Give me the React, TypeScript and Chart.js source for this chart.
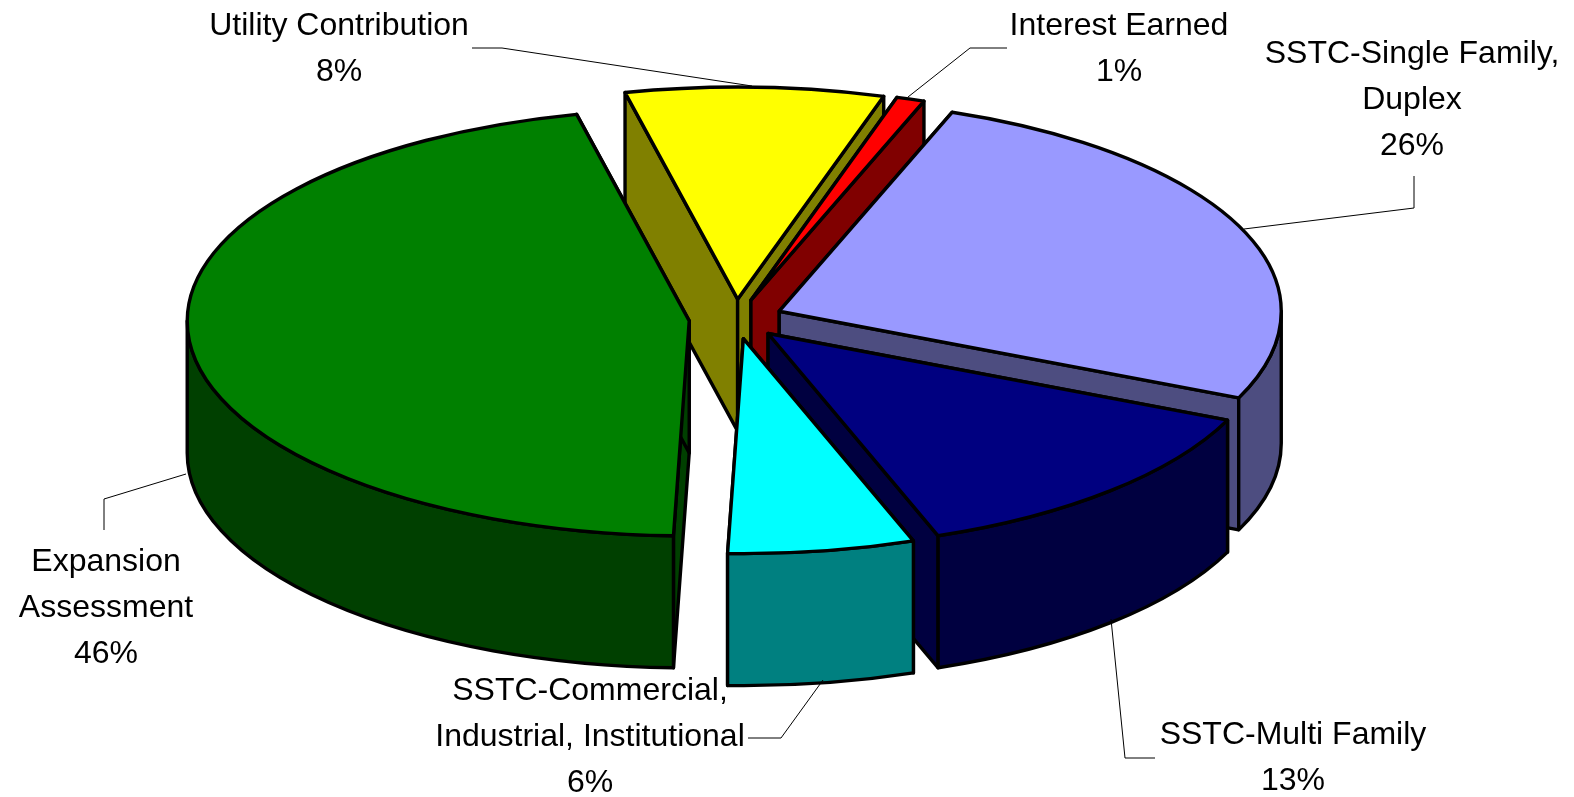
import React, { useEffect, useRef } from "react";
import { Chart, registerables } from "chart.js";

Chart.register(...registerables);

const categories = [
  "Expansion Assessment",
  "Utility Contribution",
  "Interest Earned",
  "SSTC-Single Family, Duplex",
  "SSTC-Multi Family",
  "SSTC-Commercial, Industrial, Institutional",
];
const values = [45.9, 8.3, 0.9, 26, 12.9, 6];
const topColors = ["#008000", "#FFFF00", "#FF0000", "#9999FF", "#000080", "#00FFFF"];
const sideColors = ["#004000", "#808000", "#800000", "#4D4D80", "#000040", "#008080"];

const labelLines = [
  ["Expansion", "Assessment"],
  ["Utility Contribution"],
  ["Interest Earned"],
  ["SSTC-Single Family,", "Duplex"],
  ["SSTC-Multi Family"],
  ["SSTC-Commercial,", "Industrial, Institutional"],
];
const labelCenters = [
  [106, 562],
  [339, 26],
  [1119, 26],
  [1412, 54],
  [1293, 735],
  [590, 691],
];
const leaders = [
  [[104, 530], [104, 499], [186, 474]],
  [[472, 48], [502, 48], [752, 86]],
  [[1007, 48], [970, 48], [908, 97]],
  [[1414, 176], [1414, 208], [1244, 229]],
  [[1155, 758], [1125, 758], [1111, 619]],
  [[748, 738], [781, 738], [823, 680]],
];

const CX = 736;
const CY = 319;
const RX = 502;
const RY_BACK = 212;
const RY_FRONT = 215;
const DEPTH = 132;
const EXPLODE = 47;
const LINE_H = 46;
const START_ANGLE = 181.8;

const ry = (t: number) => (Math.sin(t) > 0 ? RY_FRONT : RY_BACK);

function rim(ctx: CanvasRenderingContext2D, x: number, y: number, from: number, to: number) {
  const dir = to >= from ? 1 : -1;
  let t = from;
  while ((to - t) * dir > 1e-6) {
    const boundary =
      dir > 0
        ? (Math.floor(t / Math.PI + 1e-9) + 1) * Math.PI
        : (Math.ceil(t / Math.PI - 1e-9) - 1) * Math.PI;
    const next = dir > 0 ? Math.min(boundary, to) : Math.max(boundary, to);
    ctx.ellipse(x, y, RX, ry((t + next) / 2), 0, t, next, dir < 0);
    t = next;
  }
}

const pie3d = {
  id: "pie3d",
  beforeDatasetsDraw(chart: any) {
    const ctx: CanvasRenderingContext2D = chart.ctx;
    const arcs = chart.getDatasetMeta(0).data;
    const slices = arcs.map((el: any, i: number) => {
      const a = el.startAngle;
      const b = el.endAngle;
      const m = (a + b) / 2;
      return {
        a,
        b,
        i,
        x: CX + Math.cos(m) * EXPLODE,
        y: CY + (Math.sin(m) * EXPLODE * RY_BACK) / RX,
      };
    });
    slices.sort((p: any, q: any) => p.y - q.y);
    ctx.save();
    ctx.lineWidth = 3.4;
    ctx.lineJoin = "round";
    ctx.strokeStyle = "#000";
    const paint = (fill: string) => {
      ctx.fillStyle = fill;
      ctx.fill();
      ctx.stroke();
    };
    for (const s of slices) {
      const side = sideColors[s.i];
      for (const t of [s.a, s.b]) {
        const ex = s.x + Math.cos(t) * RX;
        const ey = s.y + Math.sin(t) * ry(t);
        ctx.beginPath();
        ctx.moveTo(s.x, s.y);
        ctx.lineTo(ex, ey);
        ctx.lineTo(ex, ey + DEPTH);
        ctx.lineTo(s.x, s.y + DEPTH);
        ctx.closePath();
        paint(side);
      }
      for (let n = -1; n < 3; n++) {
        const lo = Math.max(s.a, n * 2 * Math.PI);
        const hi = Math.min(s.b, n * 2 * Math.PI + Math.PI);
        if (hi <= lo) continue;
        ctx.beginPath();
        rim(ctx, s.x, s.y, lo, hi);
        rim(ctx, s.x, s.y + DEPTH, hi, lo);
        ctx.closePath();
        paint(side);
      }
      ctx.beginPath();
      ctx.moveTo(s.x, s.y);
      rim(ctx, s.x, s.y, s.a, s.b);
      ctx.closePath();
      paint(topColors[s.i]);
    }
    ctx.lineWidth = 1;
    for (const pts of leaders) {
      ctx.beginPath();
      pts.forEach(([x, y], j) => (j ? ctx.lineTo(x, y) : ctx.moveTo(x, y)));
      ctx.stroke();
    }
    ctx.fillStyle = "#000";
    ctx.font = '32px "Liberation Sans"';
    ctx.textAlign = "center";
    ctx.textBaseline = "middle";
    const total = values.reduce((p, c) => p + c, 0);
    labelLines.forEach((lines, i) => {
      const [x, y] = labelCenters[i];
      [...lines, `${Math.round((values[i] / total) * 100)}%`].forEach((line, j) => {
        ctx.fillText(line, x, y + j * LINE_H);
      });
    });
    ctx.restore();
    return false;
  },
};

export default function App() {
  const ref = useRef<HTMLCanvasElement>(null);
  useEffect(() => {
    const chart = new Chart(ref.current!, {
      type: "pie",
      data: {
        labels: categories,
        datasets: [{ data: values, backgroundColor: topColors, borderColor: "#000" }],
      },
      options: {
        animation: false,
        responsive: false,
        devicePixelRatio: 1,
        rotation: START_ANGLE,
        plugins: { legend: { display: false }, tooltip: { enabled: false } },
      },
      plugins: [pie3d],
    });
    return () => chart.destroy();
  }, []);
  return (
    <div style={{ position: "absolute", left: 0, top: 0, width: 1574, height: 797 }}>
      <canvas ref={ref} width={1574} height={797} style={{ display: "block" }} />
    </div>
  );
}
